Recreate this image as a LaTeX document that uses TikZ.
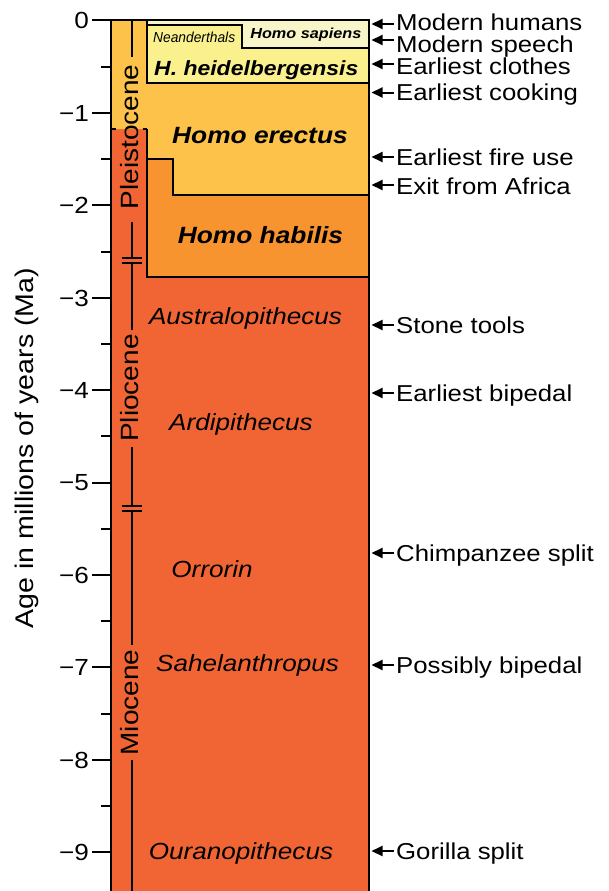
\documentclass[tikz,border=0pt]{standalone}
\usepackage{fontspec}
\setmainfont{Liberation Sans}[FakeStretch=1.12]
\newfontfamily\narrowfont{Liberation Sans}[FakeStretch=0.95]
\usetikzlibrary{arrows.meta}
\definecolor{redc}{HTML}{F16535}
\definecolor{habc}{HTML}{F79430}
\definecolor{erec}{HTML}{FCC249}
\definecolor{heic}{HTML}{FAF18E}
\definecolor{sapc}{HTML}{F8F5C8}
\newcommand\fs[1]{\fontsize{#1}{#1}\selectfont}
\tikzset{
  border/.style={line width=2.4pt, line join=miter},
  tick/.style={line width=2pt},
  eline/.style={line width=2pt},
  arr/.style={line width=2pt, -{Triangle[length=11pt,width=10pt]}},
  evlabel/.style={anchor=base west, inner sep=0pt, font=\fs{23}},
  taxon/.style={anchor=base, inner sep=0pt, font=\fs{23.3}\itshape},
  bigtaxon/.style={anchor=base, inner sep=0pt, font=\fs{23.5}\bfseries\itshape},
  epoch/.style={anchor=base, inner sep=0pt, rotate=90, font=\fs{25}},
  ticklabel/.style={anchor=base east, inner sep=0pt, font=\fs{23.3}}
}
\begin{document}
\begin{tikzpicture}[x=1pt,y=-1pt]
\useasboundingbox (0,0) rectangle (608,891);
% fills
\fill[redc] (111,20) rectangle (369,891);
\fill[erec] (111,20) -- (369,20) -- (369,195) -- (173,195) -- (173,159) -- (147,159) -- (147,129) -- (111,129) -- cycle;
\fill[habc] (147,159) -- (173,159) -- (173,195) -- (369,195) -- (369,277) -- (147,277) -- cycle;
\fill[heic] (147,20) rectangle (369,83);
\fill[sapc] (147,20) -- (369,20) -- (369,48) -- (242,48) -- (242,25) -- (147,25) -- cycle;
% region borders
\draw[border] (147,20) -- (147,83) -- (369,83);
\draw[border] (147,25) -- (242,25) -- (242,48) -- (369,48);
\draw[border] (147,159) -- (173,159) -- (173,195) -- (369,195);
\draw[border] (147,129) -- (147,277) -- (369,277);
\draw[border] (111,129) -- (115.5,129);
\draw[border] (142.5,129) -- (147,129);
\draw[border] (111,891) -- (111,20) -- (369,20) -- (369,891);
% ticks
\foreach \t in {0,...,9}{
  \pgfmathsetmacro{\yy}{20.5+92.4*\t}
  \draw[tick] (92,\yy) -- (111,\yy);
}
\foreach \t in {0.5,1.5,...,8.5}{
  \pgfmathsetmacro{\yy}{20.5+92.4*\t}
  \draw[tick] (101,\yy) -- (111,\yy);
}
\node[ticklabel] (t0) at (89,28.8) {0};
\foreach \t in {1,...,9}{
  \pgfmathsetmacro{\yy}{20.5+92.4*\t+8.3}
  \node[ticklabel] (t\t) at (89,\yy) {−\t};
}
\node[anchor=base, inner sep=0pt, rotate=90, font=\fs{25.5}] (ytitle) at (33,448) {Age in millions of years (Ma)};
% epochs
\node[epoch] (plei) at (138.5,137) {Pleistocene};
\node[epoch] (plio) at (138.5,388) {Pliocene};
\node[epoch] (mio) at (138.5,702.5) {Miocene};
\coordinate (e0) at (131.7,20);
\coordinate (e1) at (131.7,57);
\coordinate (e2) at (131.7,221.5);
\coordinate (e3) at (131.7,258);
\coordinate (e4) at (131.7,263);
\coordinate (e5) at (131.7,330);
\coordinate (e6) at (131.7,447);
\coordinate (e7) at (131.7,506);
\coordinate (e8) at (131.7,511);
\coordinate (e9) at (131.7,645);
\coordinate (e10) at (131.7,760);
\coordinate (e11) at (131.7,891);
\draw[eline] (e0) -- (e1);
\draw[eline] (e2) -- (e3);
\draw[eline] (e4) -- (e5);
\draw[eline] (e6) -- (e7);
\draw[eline] (e8) -- (e9);
\draw[eline] (e10) -- (e11);
\draw[eline] ([xshift=-10pt]e3) -- ([xshift=10pt]e3);
\draw[eline] ([xshift=-10pt]e4) -- ([xshift=10pt]e4);
\draw[eline] ([xshift=-10pt]e7) -- ([xshift=10pt]e7);
\draw[eline] ([xshift=-10pt]e8) -- ([xshift=10pt]e8);
% taxa
\node[anchor=base, inner sep=0pt, font=\narrowfont\fs{14.5}\itshape] (nean) at (194.2,42.7) {Neanderthals};
\node[anchor=base, inner sep=0pt, font=\fs{14.5}\bfseries\itshape] (sap) at (305.8,38.5) {Homo sapiens};
\node[anchor=base, inner sep=0pt, font=\fs{20.5}\bfseries\itshape] (heid) at (256.3,75) {H. heidelbergensis};
\node[bigtaxon] (erec) at (260,143.2) {Homo erectus};
\node[bigtaxon] (habi) at (260.5,243.3) {Homo habilis};
\node[taxon] (aus) at (245.5,324) {Australopithecus};
\node[taxon] (ard) at (241,430) {Ardipithecus};
\node[taxon] (orr) at (212,577) {Orrorin};
\node[taxon] (sah) at (247.5,671.5) {Sahelanthropus};
\node[taxon] (our) at (241,859.3) {Ouranopithecus};
% events
\node[evlabel] (l1) at (396,30.8) {Modern humans};
\node[evlabel] (l2) at (396,52.5) {Modern speech};
\node[evlabel] (l3) at (396,74.3) {Earliest clothes};
\node[evlabel] (l4) at (396,100) {Earliest cooking};
\node[evlabel] (l5) at (396,165.5) {Earliest fire use};
\node[evlabel] (l6) at (396,194) {Exit from Africa};
\node[evlabel] (l7) at (396,333.3) {Stone tools};
\node[evlabel] (l8) at (396,401.3) {Earliest bipedal};
\node[evlabel] (l9) at (396,561.3) {Chimpanzee split};
\node[evlabel] (l10) at (396,673) {Possibly bipedal};
\node[evlabel] (l11) at (396,859.3) {Gorilla split};
\foreach \i/\yy in {1/24,2/40,3/64,4/92.5,5/157,6/185,7/325,8/393,9/553,10/665,11/851}{
  \coordinate (s\i) at (393.5,\yy);
  \coordinate (h\i) at (371.5,\yy);
  \draw[arr] (s\i) -- (h\i);
}
\end{tikzpicture}
\end{document}
